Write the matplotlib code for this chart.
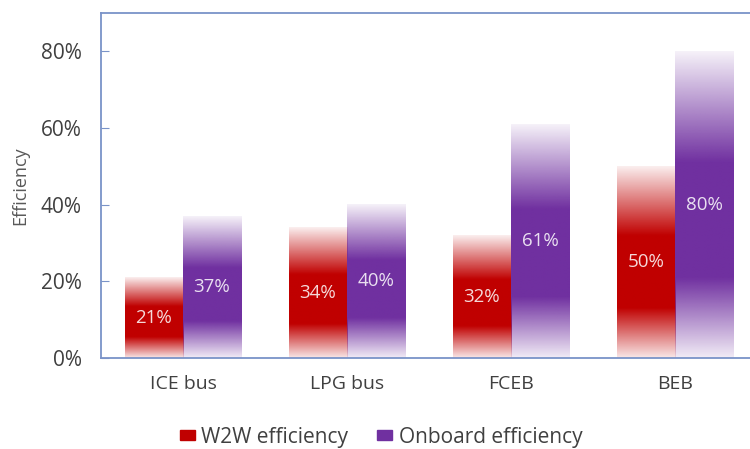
import numpy as np
import matplotlib.pyplot as plt
from matplotlib.patches import Patch
from matplotlib.colors import to_rgb
from matplotlib.ticker import PercentFormatter

categories = ['ICE bus', 'LPG bus', 'FCEB', 'BEB']
w2w = [21, 34, 32, 50]
onboard = [37, 40, 61, 80]
series_names = ['W2W efficiency', 'Onboard efficiency']
colors = ['#c00000', '#7030a0']

plt.rcParams['font.family'] = ['Open Sans', 'DejaVu Sans']

def fade_profile(n=200):
    # alpha along the bar height: faded at bottom and top, solid in middle
    f = np.linspace(0, 1, n)
    a = np.ones(n)
    low = f < 0.26
    a[low] = 0.1 + 0.9 * (f[low] / 0.26)
    high = f > 0.64
    a[high] = 1 - 0.93 * ((f[high] - 0.64) / 0.36)
    return a

def gradient_bar(ax, x, width, height, color):
    rgb = to_rgb(color)
    a = fade_profile()
    img = np.zeros((len(a), 1, 4))
    img[:, 0, :3] = rgb
    img[:, 0, 3] = a
    ax.imshow(img, extent=[x - width / 2, x + width / 2, 0, height],
              origin='lower', aspect='auto', interpolation='bilinear', zorder=2)

fig = plt.figure(figsize=(7.5, 4.49), dpi=100)
ax = fig.add_axes([101 / 750, 1 - 358 / 449, 656 / 750, 345 / 449])

x = np.arange(len(categories))
w = 0.354
for i, vals in enumerate([w2w, onboard]):
    off = (i - 0.5) * w
    for xi, v in zip(x, vals):
        gradient_bar(ax, xi + off, w, v, colors[i])
        ax.text(xi + off, v / 2, f'{v}%', ha='center', va='center',
                color='white', alpha=0.85, fontsize=13.5, zorder=3)

ax.set_xlim(-0.5, 3.5)
ax.set_ylim(0, 90)
ax.set_yticks([0, 20, 40, 60, 80])
ax.yaxis.set_major_formatter(PercentFormatter(decimals=0))
ax.set_xticks(x)
ax.set_xticklabels(categories)
ax.tick_params(axis='x', length=0, pad=12, labelsize=14, labelcolor='#404040')
ax.tick_params(axis='y', direction='in', length=6, color='#7a93c8',
               labelsize=15, labelcolor='#404040', pad=14)
for s in ax.spines.values():
    s.set_color('#7a93c8')
    s.set_linewidth(1.3)
ax.set_ylabel('Efficiency', fontsize=13, color='#595959', labelpad=8)

handles = [Patch(color=c) for c in colors]
fig.legend(handles, series_names, loc='center', bbox_to_anchor=(0.508, 1 - 437 / 449),
           ncol=2, frameon=False, fontsize=15, handlelength=0.72, handleheight=0.4,
           handletextpad=0.3, columnspacing=1.4, labelcolor='#404040')

fig.savefig('out.png', dpi=100)
